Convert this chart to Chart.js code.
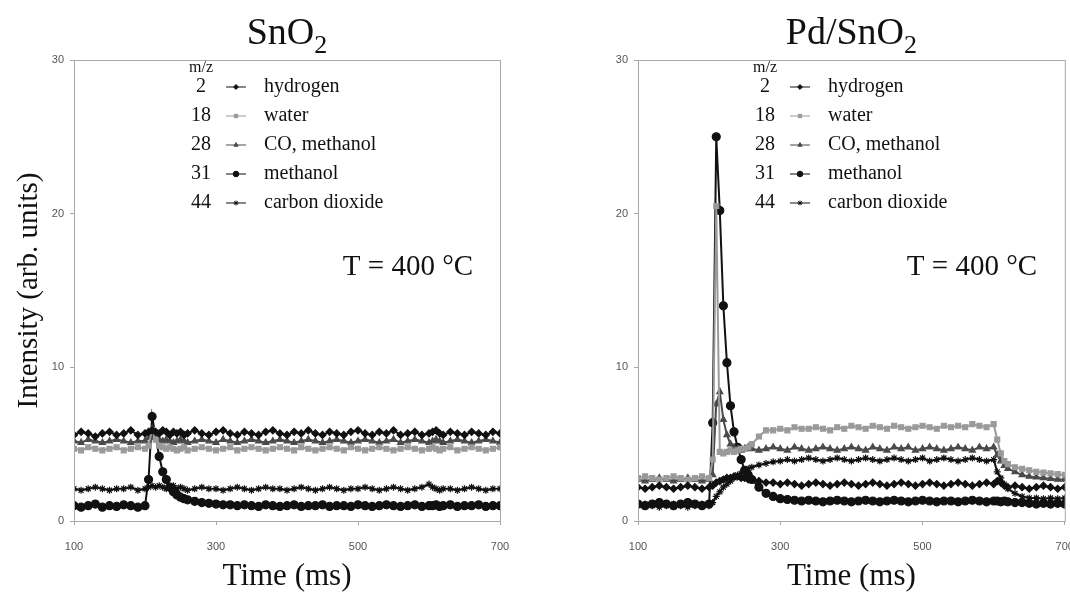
<!DOCTYPE html>
<html>
<head>
<meta charset="utf-8">
<title>Mass spectrometer transients, SnO2 vs Pd/SnO2</title>
<script src="https://cdn.jsdelivr.net/npm/chart.js@4.4.0/dist/chart.umd.min.js"></script>
<style>
  html, body { margin: 0; padding: 0; background: #fff; }
  body { width: 1070px; height: 592px; position: relative; overflow: hidden; }
  .panel { position: absolute; top: 0; }
  #leftPanel { left: 0; }
  #rightPanel { left: 560px; }
</style>
</head>
<body>
<div class="panel" id="leftPanel"><canvas id="chartSnO2" width="540" height="592"></canvas></div>
<div class="panel" id="rightPanel"><canvas id="chartPdSnO2" width="510" height="592"></canvas></div>
<script>
// -------- Data --------
// sample times (ms), denser around the pulse at 200 ms and the switch-off at 600 ms
const timeMs = [100,110,120,130,140,150,160,170,180,190,
  200,205,210,215,220,225,230,235,240,245,
  250,255,260,270,280,290,300,310,320,330,
  340,350,360,370,380,390,400,410,420,430,
  440,450,460,470,480,490,500,510,520,530,
  540,550,560,570,580,590,600,605,610,615,
  620,630,640,650,660,670,680,690,700];

const massNumbers = ['2', '18', '28', '31', '44'];
const speciesNames = ['hydrogen', 'water', 'CO, methanol', 'methanol', 'carbon dioxide'];

const xTicks = [100, 300, 500, 700];
const yTicks = [0, 10, 20, 30];

// SnO2 panel
const hydrogenSnO2 = [5.6,5.8,5.7,5.5,5.7,5.8,5.6,5.7,5.9,5.6,
  5.7,5.8,5.9,5.8,5.7,5.9,5.8,5.6,5.8,5.7,
  5.8,5.6,5.7,5.9,5.7,5.6,5.8,5.9,5.7,5.6,
  5.8,5.7,5.6,5.8,5.9,5.7,5.6,5.8,5.7,5.9,
  5.7,5.6,5.8,5.7,5.6,5.8,5.9,5.7,5.6,5.8,
  5.7,5.9,5.6,5.7,5.8,5.6,5.7,5.8,5.9,5.7,
  5.6,5.8,5.7,5.6,5.8,5.7,5.6,5.8,5.7];
const waterSnO2 = [4.7,4.6,4.8,4.7,4.6,4.7,4.8,4.6,4.7,4.8,
  4.7,4.9,5.9,5.3,4.9,4.8,4.7,4.8,4.7,4.6,
  4.7,4.8,4.6,4.7,4.8,4.7,4.6,4.7,4.8,4.6,
  4.7,4.8,4.7,4.6,4.7,4.8,4.7,4.6,4.8,4.7,
  4.6,4.7,4.8,4.7,4.6,4.8,4.7,4.6,4.7,4.8,
  4.7,4.6,4.7,4.8,4.7,4.6,4.7,4.8,4.7,4.6,
  4.7,4.8,4.6,4.7,4.8,4.7,4.6,4.7,4.8];
const coSnO2 = [5.2,5.1,5.3,5.2,5.1,5.2,5.3,5.2,5.1,5.2,
  5.2,5.4,6.0,5.6,5.3,5.2,5.3,5.2,5.1,5.2,
  5.3,5.2,5.1,5.2,5.3,5.2,5.1,5.3,5.2,5.1,
  5.2,5.3,5.2,5.1,5.2,5.3,5.2,5.1,5.2,5.3,
  5.2,5.1,5.2,5.3,5.2,5.1,5.2,5.3,5.2,5.1,
  5.2,5.3,5.1,5.2,5.3,5.2,5.1,5.2,5.3,5.2,
  5.1,5.2,5.3,5.2,5.1,5.2,5.3,5.2,5.1];
const methanolSnO2 = [1.0,0.9,1.0,1.1,0.9,1.0,0.95,1.05,1.0,0.9,
  1.0,2.7,6.8,5.5,4.2,3.2,2.7,2.2,1.9,1.7,
  1.55,1.45,1.38,1.28,1.2,1.15,1.1,1.05,1.05,1.0,
  1.05,1.0,0.95,1.05,1.0,0.95,1.0,1.05,0.95,1.0,
  1.0,1.05,0.95,1.0,1.0,0.95,1.05,1.0,0.95,1.0,
  1.05,1.0,0.95,1.0,1.05,0.95,1.0,1.0,1.05,0.95,
  1.0,1.05,0.95,1.0,1.0,1.05,0.95,1.0,1.0];
const co2SnO2 = [2.1,2.0,2.1,2.2,2.1,2.0,2.1,2.1,2.2,2.0,
  2.1,2.2,2.3,2.2,2.3,2.2,2.1,2.2,2.3,2.1,
  2.2,2.1,2.0,2.1,2.2,2.1,2.1,2.0,2.1,2.2,
  2.1,2.0,2.1,2.2,2.1,2.1,2.0,2.1,2.2,2.1,
  2.0,2.1,2.2,2.1,2.0,2.1,2.1,2.2,2.1,2.0,
  2.1,2.2,2.1,2.0,2.1,2.2,2.4,2.2,2.1,2.0,
  2.1,2.1,2.0,2.1,2.2,2.1,2.0,2.1,2.1];

// Pd/SnO2 panel
const hydrogenPd = [2.2,2.1,2.2,2.3,2.2,2.1,2.2,2.3,2.2,2.1,
  2.2,2.3,2.5,2.6,2.7,2.8,2.8,2.9,2.9,2.8,
  2.8,2.7,2.7,2.6,2.5,2.5,2.4,2.5,2.4,2.3,
  2.4,2.5,2.4,2.3,2.4,2.5,2.4,2.3,2.4,2.5,
  2.4,2.3,2.4,2.5,2.4,2.3,2.4,2.5,2.4,2.3,
  2.4,2.5,2.4,2.3,2.4,2.5,2.4,2.6,2.5,2.3,
  2.2,2.3,2.2,2.1,2.2,2.3,2.2,2.1,2.2];
const waterPd = [2.8,2.9,2.8,2.7,2.8,2.9,2.8,2.7,2.8,2.9,
  2.8,4.0,20.5,4.5,4.4,4.5,4.6,4.5,4.6,4.7,
  4.7,4.8,5.0,5.5,5.9,5.9,6.0,5.9,6.1,6.0,
  6.0,6.1,6.0,5.9,6.1,6.0,6.2,6.1,6.0,6.2,
  6.1,6.0,6.2,6.1,6.0,6.1,6.2,6.1,6.0,6.2,
  6.1,6.2,6.1,6.3,6.2,6.1,6.3,5.3,4.4,3.9,
  3.7,3.5,3.4,3.3,3.2,3.15,3.1,3.05,3.0];
const coPd = [2.7,2.6,2.7,2.8,2.7,2.6,2.7,2.8,2.7,2.6,
  2.7,3.0,7.6,8.4,6.6,5.6,5.0,4.8,4.7,4.6,
  4.7,4.8,4.7,4.6,4.7,4.8,4.7,4.6,4.8,4.7,
  4.6,4.7,4.8,4.7,4.6,4.7,4.8,4.7,4.6,4.8,
  4.7,4.6,4.8,4.7,4.8,4.6,4.7,4.8,4.7,4.6,
  4.7,4.8,4.7,4.6,4.8,4.7,4.8,4.3,3.9,3.6,
  3.4,3.2,3.0,2.9,2.85,2.8,2.75,2.7,2.7];
const methanolPd = [1.1,1.0,1.1,1.2,1.1,1.0,1.1,1.2,1.1,1.0,
  1.1,6.4,25.0,20.2,14.0,10.3,7.5,5.8,4.8,4.0,
  3.3,3.0,2.7,2.2,1.8,1.6,1.45,1.4,1.35,1.3,
  1.35,1.3,1.25,1.3,1.35,1.3,1.25,1.3,1.35,1.3,
  1.25,1.3,1.35,1.3,1.25,1.3,1.35,1.3,1.25,1.3,
  1.3,1.25,1.3,1.35,1.3,1.25,1.3,1.3,1.25,1.3,
  1.25,1.2,1.2,1.15,1.1,1.15,1.1,1.15,1.1];
const co2Pd = [1.0,1.1,1.0,0.9,1.0,1.1,1.0,0.9,1.0,1.1,
  1.0,1.2,1.6,1.9,2.2,2.4,2.6,2.8,3.0,3.1,
  3.3,3.4,3.5,3.65,3.75,3.85,3.9,4.0,3.9,4.0,
  4.1,4.0,3.9,4.0,4.1,4.0,3.9,4.0,4.1,4.0,
  3.9,4.0,4.1,4.0,3.9,4.0,4.1,3.9,4.0,4.1,
  4.0,3.9,4.0,4.1,4.0,3.9,4.0,3.2,2.8,2.4,
  2.1,1.8,1.6,1.5,1.5,1.45,1.5,1.45,1.5];

// -------- Styles --------
const SERIF = '"Liberation Serif", "Times New Roman", serif';
const NARROW = '"Liberation Sans Narrow", "Arial Narrow", "Liberation Sans", sans-serif';

const seriesStyles = [
  { color: '#111111', pointStyle: 'rectRot', radius: 3.5 },
  { color: '#9a9a9a', pointStyle: 'rect', radius: 3.5 },
  { color: '#4a4a4a', pointStyle: 'triangle', radius: 3.5 },
  { color: '#111111', pointStyle: 'circle', radius: 4 },
  { color: '#111111', pointStyle: 'star', radius: 3.5 }
];

function buildDatasets(seriesList) {
  return seriesList.map((values, i) => {
    const s = seriesStyles[i];
    return {
      label: speciesNames[i],
      data: timeMs.map((t, k) => ({ x: t, y: values[k] })),
      borderColor: s.color,
      backgroundColor: s.color,
      pointBackgroundColor: s.color,
      pointBorderColor: s.color,
      pointStyle: s.pointStyle,
      pointRadius: s.radius,
      pointBorderWidth: 1.2,
      borderWidth: 2,
      tension: 0
    };
  });
}

// frame, title with subscript, temperature note and the m/z legend
const panelDecor = {
  id: 'panelDecor',
  afterDraw(chart, args, opts) {
    const { ctx, chartArea: a } = chart;
    ctx.save();

    ctx.strokeStyle = '#a8a8a8';
    ctx.lineWidth = 1;
    ctx.strokeRect(a.left + 0.5, a.top + 0.5, a.right - a.left, a.bottom - a.top);

    // title
    ctx.fillStyle = '#111';
    ctx.textAlign = 'left';
    ctx.textBaseline = 'alphabetic';
    ctx.font = '38px ' + SERIF;
    const wMain = ctx.measureText(opts.title).width;
    ctx.font = '26px ' + SERIF;
    const wSub = ctx.measureText(opts.sub).width;
    const x0 = (a.left + a.right) / 2 - (wMain + wSub) / 2;
    ctx.font = '38px ' + SERIF;
    ctx.fillText(opts.title, x0, 44);
    ctx.font = '26px ' + SERIF;
    ctx.fillText(opts.sub, x0 + wMain, 53);

    // temperature
    ctx.font = '29px ' + SERIF;
    ctx.textAlign = 'center';
    ctx.fillText('T = 400 °C', a.left + 334, a.top + 215);

    // legend
    const numX = a.left + 127;
    const markX = a.left + 162;
    const labelX = a.left + 190;
    ctx.textBaseline = 'middle';
    ctx.font = '16px ' + SERIF;
    ctx.fillText('m/z', numX, a.top + 8);
    chart.data.datasets.forEach((ds, i) => {
      const y = a.top + 27 + 29 * i;
      ctx.fillStyle = '#111';
      ctx.font = '20px ' + SERIF;
      ctx.textAlign = 'center';
      ctx.fillText(massNumbers[i], numX, y);
      ctx.textAlign = 'left';
      ctx.fillText(ds.label, labelX, y);

      ctx.strokeStyle = ds.borderColor;
      ctx.lineWidth = 1;
      ctx.beginPath();
      ctx.moveTo(markX - 10, y);
      ctx.lineTo(markX + 10, y);
      ctx.stroke();
      ctx.fillStyle = ds.pointBackgroundColor;
      Chart.helpers.drawPoint(ctx, {
        pointStyle: ds.pointStyle,
        radius: ds.pointRadius * 0.7,
        borderWidth: 1,
        rotation: 0
      }, markX, y);
    });

    ctx.restore();
  }
};

// keep the plot frame where it is: no extra room for overhanging tick labels
function noOverhang(scale) {
  scale.paddingLeft = 0;
  scale.paddingRight = 0;
  scale.paddingTop = 0;
  scale.paddingBottom = 0;
}

function makePanel(canvasId, seriesList, title, sub, yAxisWidth, rightPad, showYTitle) {
  const ctx = document.getElementById(canvasId).getContext('2d');
  return new Chart(ctx, {
    type: 'line',
    data: { datasets: buildDatasets(seriesList) },
    options: {
      responsive: false,
      animation: false,
      layout: { padding: { top: 60, right: rightPad, left: 0, bottom: 0 } },
      plugins: {
        legend: { display: false },
        tooltip: { enabled: false },
        panelDecor: { title: title, sub: sub }
      },
      scales: {
        x: {
          type: 'linear',
          min: xTicks[0],
          max: xTicks[xTicks.length - 1],
          afterBuildTicks: (scale) => { scale.ticks = xTicks.map(v => ({ value: v })); },
          afterFit: (scale) => { scale.height = 71; noOverhang(scale); },
          grid: { drawOnChartArea: false, drawTicks: true, tickLength: 4, color: '#a8a8a8' },
          border: { display: true, color: '#a8a8a8' },
          ticks: { color: '#555', padding: 15, maxRotation: 0, font: { family: NARROW, size: 11 } },
          title: {
            display: true,
            text: 'Time (ms)',
            color: '#111',
            font: { family: SERIF, size: 31, lineHeight: 1 },
            padding: { top: 0, bottom: 0 }
          }
        },
        y: {
          min: yTicks[0],
          max: yTicks[yTicks.length - 1],
          afterBuildTicks: (scale) => { scale.ticks = yTicks.map(v => ({ value: v })); },
          afterFit: (scale) => { scale.width = yAxisWidth; noOverhang(scale); },
          grid: { drawOnChartArea: false, drawTicks: true, tickLength: 4, color: '#a8a8a8' },
          border: { display: true, color: '#a8a8a8' },
          ticks: { color: '#555', padding: 6, font: { family: NARROW, size: 11 } },
          title: {
            display: showYTitle,
            text: 'Intensity (arb. units)',
            color: '#111',
            font: { family: SERIF, size: 29, lineHeight: 1 },
            padding: { top: 15, bottom: 0 }
          }
        }
      }
    },
    plugins: [panelDecor]
  });
}

makePanel('chartSnO2',
  [hydrogenSnO2, waterSnO2, coSnO2, methanolSnO2, co2SnO2],
  'SnO', '2', 74, 40, true);

makePanel('chartPdSnO2',
  [hydrogenPd, waterPd, coPd, methanolPd, co2Pd],
  'Pd/SnO', '2', 78, 4, false);
</script>
</body>
</html>
